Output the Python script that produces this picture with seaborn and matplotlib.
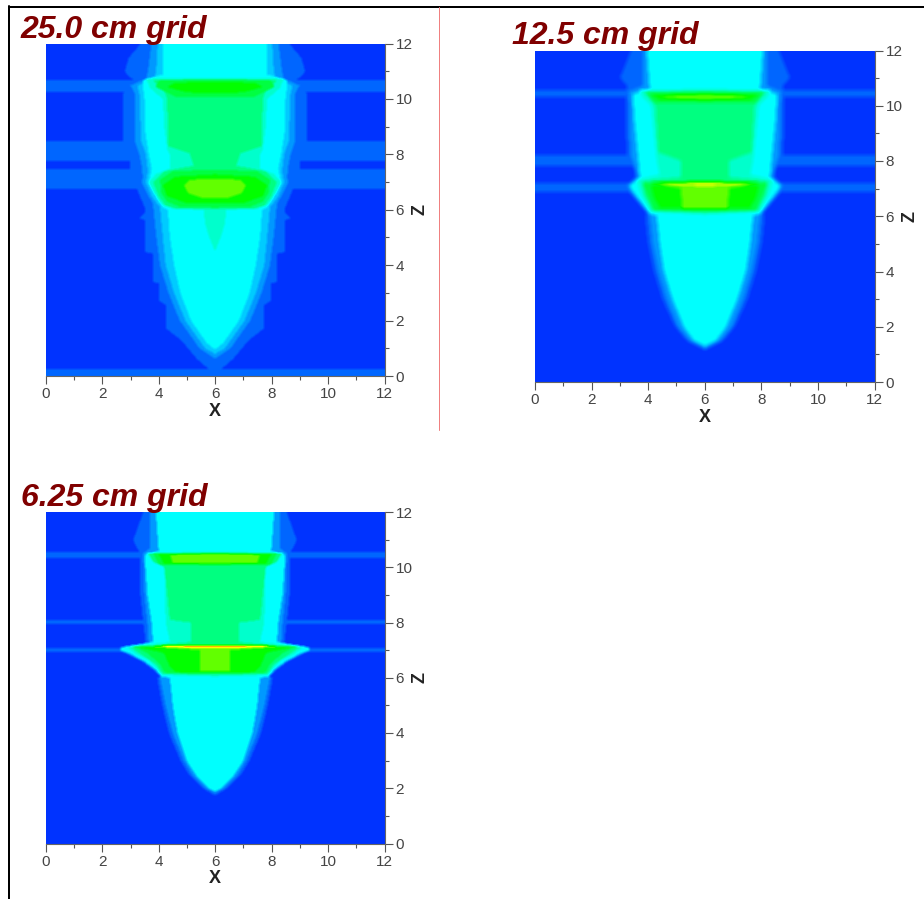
import numpy as np
import matplotlib
matplotlib.use("Agg")
import matplotlib.pyplot as plt
from matplotlib.lines import Line2D
import seaborn as sns

LEVEL_COLORS = ["#0033FF", "#0066FF", "#0099FF", "#00CCFF", "#00FFFF", "#00FFCC",
                "#00FF80", "#00FF40", "#00FF00", "#60FF00", "#FFFF00", "#FF3000"]
TITLES = ["25.0 cm grid", "12.5 cm grid", "6.25 cm grid"]
TICKS = [0, 2, 4, 6, 8, 10, 12]
MINOR_TICKS = [1, 3, 5, 7, 9, 11]

# (z, half-width about x = 6) of each contour level
P1_BANDS = [(10.27, 10.69), (7.77, 8.49), (6.77, 7.49), (0.0, 0.27)]
P1_L1 = [(12, 2.65), (11.5, 3.07), (11, 3.2), (10.85, 3.07), (10.65, 2.85), (10.5, 3.07), (10.2, 3.26),
         (8.45, 3.26), (8.44, 3.0), (7.5, 3.0), (7.49, 3.0), (6.75, 2.77), (6.1, 2.5), (5.9, 2.5), (5.7, 2.68),
         (5.63, 2.48), (4.48, 2.48), (4.42, 2.2), (3.4, 2.2), (3.34, 1.99), (2.73, 1.99), (2.55, 1.73),
         (1.71, 1.73), (1.29, 1.2), (0.63, 0.66), (0.27, 0.25), (0.2, -1)]
P1_L2 = [(12, 2.26), (11, 2.38), (10.75, 2.45), (10.5, 3.0), (10.2, 2.85), (8.5, 2.85), (8, 2.68), (7.7, 2.62),
         (7.2, 2.56), (7, 2.6), (6.7, 2.45), (6.2, 2.2), (6, 2.18), (5, 2.08), (4, 1.95), (3, 1.65),
         (2, 1.25), (1, 0.55), (0.63, 0), (0.6, -1)]
P1_L3 = [(12, 2.03), (11, 2.09), (10.8, 2.15), (10.5, 2.75), (10.2, 2.68), (8.5, 2.62), (8, 2.45), (7.4, 2.38),
         (7, 2.45), (6.5, 2.25), (6.1, 1.95), (5, 1.85), (4, 1.75), (3, 1.45), (2, 1.05), (1, 0.35),
         (0.8, 0), (0.78, -1)]
P1_L4 = [(12, 1.85), (10.9, 1.85), (10.7, 2.55), (10.4, 2.55), (10, 2.5), (9, 2.5), (8, 2.35), (7.5, 2.25),
         (7, 2.35), (6.5, 2.1), (6.1, 1.85), (6, 1.67), (5, 1.6), (4, 1.45), (3, 1.23), (2, 0.85),
         (1.2, 0.3), (0.95, 0), (0.93, -1)]
P1_L5 = [(10.8, -1), (10.75, 2.45), (10.4, 2.3), (10, 1.85), (9, 1.8), (8.2, 1.7), (8, 1.6), (7.5, 1.6),
         (7.3, 2.1), (7, 2.35), (6.5, 2.1), (6.2, 1.9), (6.05, 1.5), (6, 0.4), (5.5, 0.35), (5, 0.2),
         (4.5, 0), (4.48, -1)]
P1_L6 = [(10.75, -1), (10.7, 2.2), (10.2, 1.75), (10, 1.7), (8.3, 1.65), (8.05, 0.9), (7.6, 0.75), (7.4, 1.8),
         (7, 2.2), (6.5, 2), (6.15, 1.75), (6.05, 1.4), (6.03, -1)]
P1_L7 = [(10.72, -1), (10.68, 2.0), (10.45, 2.1), (10.1, 1.4), (10.05, -1), (7.5, -1), (7.4, 1.5), (7.1, 1.95),
         (6.6, 1.9), (6.3, 1.7), (6.1, 1.2), (6.08, -1)]
P1_L8 = [(10.65, -1), (10.6, 1.4), (10.45, 1.7), (10.25, 1.0), (10.22, -1), (7.35, -1), (7.2, 1.4), (6.9, 1.85),
         (6.5, 1.7), (6.25, 1.0), (6.22, -1)]
P1_L9 = [(7.12, -1), (7.1, 0.9), (6.9, 1.1), (6.6, 0.95), (6.45, 0.5), (6.43, -1)]
PANEL1 = [P1_L1, P1_L2, P1_L3, P1_L4, P1_L5, P1_L6, P1_L7, P1_L8, P1_L9]

P2_BANDS = [(10.3, 10.55), (7.8, 8.2), (6.85, 7.2)]
P2_L1 = [(12, 2.6), (11, 3.0), (10.7, 2.75), (10.4, 2.8), (9, 2.78), (8.2, 2.75), (7.7, 2.5), (7.4, 2.45), (7.1, 2.8),
         (6.9, 2.7), (6.1, 2.05), (6, 2.1), (5, 2.0), (4, 1.8), (3, 1.5), (2, 1.05), (1.5, 0.65), (1.15, 0),
         (1.13, -1)]
P2_L2 = [(12, 2.2), (10.7, 2.2), (10.5, 2.7), (10, 2.65), (8.2, 2.62), (7.7, 2.45), (7.4, 2.4), (7.1, 2.75),
         (6.9, 2.65), (6.1, 2.0), (6, 1.95), (5, 1.85), (4, 1.65), (3, 1.35), (2, 0.95), (1.5, 0.55), (1.2, 0),
         (1.18, -1)]
P2_L4 = [(12, 2.05), (10.6, 1.95), (10.4, 2.55), (9.5, 2.5), (8, 2.35), (7.4, 2.3), (7.1, 2.65), (6.9, 2.55),
         (6.1, 1.95), (6, 1.7), (5, 1.6), (4, 1.45), (3, 1.15), (2, 0.75), (1.5, 0.4), (1.3, 0), (1.28, -1)]
P2_L5 = [(10.6, -1), (10.55, 2.3), (10.3, 2.2), (10, 1.9), (9, 1.8), (8, 1.7), (7.5, 1.6), (7.3, 2.4), (6.9, 2.3),
         (6.15, 1.95), (6.05, 0), (6.03, -1)]
P2_L6 = [(10.55, -1), (10.5, 2.1), (10, 1.75), (8.3, 1.65), (8, 0.85), (7.4, 0.85), (7.25, 2.2), (6.8, 2.15),
         (6.2, 1.85), (6.1, 0), (6.08, -1)]
P2_L7 = [(10.5, -1), (10.45, 2.1), (10.1, 1.8), (10.05, -1), (7.3, -1), (7.2, 2.2), (6.2, 1.8), (6.15, -1)]
P2_L8 = [(10.45, -1), (10.4, 1.9), (10.2, 1.6), (10.15, -1), (7.25, -1), (7.1, 1.9), (6.7, 1.8), (6.3, 1.6),
         (6.25, -1)]
P2_L9 = [(10.38, -1), (10.35, 1.5), (10.25, 1.3), (10.23, -1), (7.28, -1), (7.22, 1.9), (7.0, 0.85), (6.25, 0.8),
         (6.23, -1)]
P2_L10 = [(7.22, -1), (7.19, 1.6), (7.11, 1.2), (7.09, -1)]
PANEL2 = [P2_L1, P2_L2, P2_L4, P2_L5, P2_L6, P2_L7, P2_L8, P2_L9, P2_L10]
P2_INDEX = [1, 2, 4, 5, 6, 7, 8, 9, 10]

P3_BANDS = [(10.35, 10.55), (7.95, 8.1), (6.95, 7.1)]
P3_L1 = [(12, 2.55), (11, 2.9), (10.75, 2.8), (10.5, 2.65), (9, 2.65), (8, 2.55), (7.2, 2.45), (7.1, 3.4),
         (7, 3.45), (6.9, 3.2), (6.6, 2.6), (6.3, 2.2), (6.05, 1.95), (6, 2.05), (5, 1.87), (4, 1.63),
         (3, 1.22), (2.5, 0.92), (2, 0.42), (1.75, 0), (1.73, -1)]
P3_L2 = [(12, 2.3), (10.7, 2.3), (10.5, 2.55), (9, 2.5), (8, 2.4), (7.2, 2.35), (7.1, 3.35), (7, 3.4),
         (6.9, 3.15), (6.6, 2.55), (6.3, 2.15), (6.05, 1.92), (6, 1.95), (5, 1.75), (4, 1.5), (3, 1.1),
         (2.5, 0.8), (2, 0.32), (1.85, 0), (1.83, -1)]
P3_L4 = [(12, 2.1), (10.6, 2.0), (10.45, 2.5), (9, 2.4), (8, 2.25), (7.3, 2.2), (7.12, 3.3), (7, 3.35), (6.9, 3.05),
         (6.6, 2.5), (6.3, 2.1), (6.05, 1.9), (6, 1.6), (5, 1.5), (4, 1.33), (3, 1.0), (2.5, 0.68), (2, 0.2),
         (1.9, 0), (1.88, -1)]
P3_L5 = [(10.6, -1), (10.5, 2.4), (10.2, 2.2), (10, 1.8), (8, 1.75), (7.3, 1.6), (7.2, 2.5), (7.1, 3.1), (6.9, 2.85),
         (6.6, 2.3), (6.1, 1.85), (6.05, 0), (6.03, -1)]
P3_L6 = [(10.55, -1), (10.5, 2.35), (10.2, 2.2), (10, 1.8), (8.1, 1.6), (8, 0.85), (7.3, 0.85), (7.2, 1.8),
         (7.12, 3), (6.9, 2.7), (6.5, 2.1), (6.15, 1.85), (6.1, 0), (6.08, -1)]
P3_L7 = [(10.55, -1), (10.5, 2.2), (10.1, 2.0), (10.05, -1), (7.22, -1), (7.15, 2.9), (6.9, 2.4), (6.5, 1.95),
         (6.2, 1.8), (6.15, -1)]
P3_L8 = [(10.52, -1), (10.48, 2.0), (10.12, 1.8), (10.08, -1), (7.2, -1), (7.12, 2.7), (6.9, 1.8), (6.4, 1.6),
         (6.2, 1.4), (6.18, -1)]
P3_L9 = [(10.5, -1), (10.46, 1.6), (10.16, 1.5), (10.14, -1), (7.2, -1), (7.16, 2.4), (7.0, 0.55), (6.25, 0.55),
         (6.23, -1)]
P3_L10 = [(7.2, -1), (7.17, 2.4), (7.1, 1.7), (7.08, -1)]
P3_L11 = [(7.18, -1), (7.155, 1.3), (7.12, 0.9), (7.1, -1)]
PANEL3 = [P3_L1, P3_L2, P3_L4, P3_L5, P3_L6, P3_L7, P3_L8, P3_L9, P3_L10, P3_L11]
P3_INDEX = [1, 2, 4, 5, 6, 7, 8, 9, 10, 11]

FIG_W, FIG_H = 924, 899
BOXES = [(46, 43.5, 338.5, 332.5), (535, 50.5, 339.5, 331.5), (46, 512, 338.5, 331.5)]
BLUR = [1, 2, 1]
TITLE_POS = [(21, 30), (512, 36), (21, 498)]


def blur(a, n):
    k = np.ones(2 * n + 1) / (2 * n + 1)
    for axis in (0, 1):
        p = np.moveaxis(a, axis, 0)
        p = np.pad(p, ((n, n), (0, 0)), mode="edge")
        p = np.apply_along_axis(lambda v: np.convolve(v, k, mode="valid"), 0, p)
        a = np.moveaxis(p, 0, axis)
    return a


def build_field(levels, index, bands, nx, nz, n):
    x = (np.arange(nx) + 0.5) / nx * 12
    z = 12 - (np.arange(nz) + 0.5) / nz * 12
    d = np.abs(x - 6)[None, :]
    f = np.zeros((nz, nx))
    for lev, prof in zip(index, levels):
        pts = sorted(prof)
        zz = [p[0] for p in pts]
        ww = [p[1] for p in pts]
        w = np.interp(z, zz, ww, left=-1, right=-1)[:, None]
        f[d <= w] = np.maximum(f[d <= w], lev)
    for lo, hi in bands:
        row = (z >= lo) & (z <= hi)
        f[row] = np.maximum(f[row], 1)
    return blur(f, n)


sns.set_theme(style="white")
plt.rcParams["font.family"] = ["Liberation Sans", "DejaVu Sans"]
cmap = sns.blend_palette(LEVEL_COLORS, n_colors=12, as_cmap=True)

fig = plt.figure(figsize=(FIG_W / 100, FIG_H / 100), dpi=100, facecolor="white")
specs = [(PANEL1, list(range(1, 10)), P1_BANDS), (PANEL2, P2_INDEX, P2_BANDS), (PANEL3, P3_INDEX, P3_BANDS)]
for i, (levels, index, bands) in enumerate(specs):
    l, t, w, h = BOXES[i]
    ax = fig.add_axes([l / FIG_W, 1 - (t + h) / FIG_H, w / FIG_W, h / FIG_H])
    nx, nz = int(round(w)), int(round(h))
    field = build_field(levels, index, bands, nx, nz, BLUR[i])
    sns.heatmap(field, ax=ax, cmap=cmap, vmin=0, vmax=11, cbar=False, xticklabels=False, yticklabels=False)
    ax.set_xticks([v / 12 * nx for v in TICKS])
    ax.set_xticklabels([str(v) for v in TICKS])
    ax.set_xticks([v / 12 * nx for v in MINOR_TICKS], minor=True)
    ax.yaxis.tick_right()
    ax.set_yticks([(12 - v) / 12 * nz for v in TICKS])
    ax.set_yticklabels([str(v) for v in TICKS])
    ax.set_yticks([(12 - v) / 12 * nz for v in MINOR_TICKS], minor=True)
    ax.tick_params(axis="both", which="major", length=6, width=0.8, color="#555555", labelcolor="#444444",
                   labelsize=11, pad=2, bottom=True, right=True, left=False)
    ax.tick_params(axis="both", which="minor", length=3, width=0.8, color="#555555", bottom=True, right=True,
                   left=False)
    for side in ("right", "bottom"):
        ax.spines[side].set_visible(True)
        ax.spines[side].set_color("#666666")
        ax.spines[side].set_linewidth(0.8)
    ax.set_xlabel("X", fontsize=13, fontweight="bold", color="#222222", va="center")
    ax.xaxis.set_label_coords(0.5, -35 / h)
    ax.yaxis.set_label_position("right")
    ax.set_ylabel("Z", fontsize=13, fontweight="bold", color="#222222", rotation=90, va="center", ha="center")
    ax.yaxis.set_label_coords(1 + 35.5 / w, 0.5)
    tx, ty = TITLE_POS[i]
    fig.text(tx / FIG_W, 1 - ty / FIG_H, TITLES[i], fontsize=23, fontweight="bold", fontstyle="italic",
             color="#800000", va="center", ha="left", zorder=10)

for xs, ys, c, lw in [((9, 924), (6.5, 6.5), "black", 2), ((9, 9), (6, 899), "black", 2),
                      ((438.5, 438.5), (7, 430), "#F08080", 1)]:
    fig.add_artist(Line2D([v / FIG_W for v in xs], [1 - v / FIG_H for v in ys], color=c, lw=lw * 0.72))

fig.savefig("out.png", dpi=100)
